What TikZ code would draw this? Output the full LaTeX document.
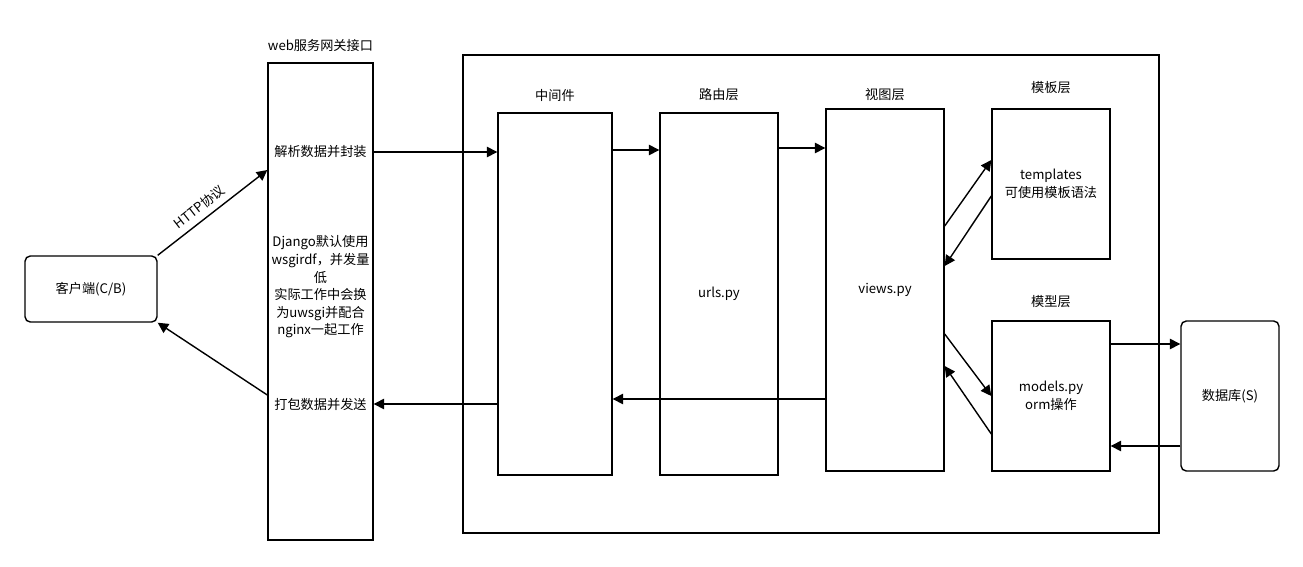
\documentclass[tikz,border=0pt]{standalone}
\usepackage{fontspec}
\setmainfont{Noto Sans CJK SC}
\usetikzlibrary{arrows.meta}
\tikzset{
  box/.style={draw, line width=0.8pt, inner sep=0pt},
  rbox/.style={box, rounded corners=3pt},
  lbl/.style={align=center, font=\fontsize{7.5}{10}\selectfont},
  link/.style={line width=0.8pt, -{Triangle[length=6pt,width=6pt]}}
}
\begin{document}
\begin{tikzpicture}[x=0.02cm, y=-0.02cm, font=\fontsize{7.5}{10}\selectfont]
  \useasboundingbox (0,0) rectangle (1303,566);

  % outer frame
  \node [box, minimum width=13.92cm, minimum height=9.56cm] (frame) at (811,294) {};

  % client and gateway
  \node [rbox, minimum width=2.64cm, minimum height=1.32cm] (client) at (91,289) {客户端(C/B)};
  \node [box, minimum width=2.1cm, minimum height=9.54cm] (gw) at (320.5,301.5) {};
  \node [lbl] (gw title) at (320.5,45) {web服务网关接口};
  \node [lbl] (gw parse) at (320.5,152) {解析数据并封装};
  \node [lbl] (gw note) at (320.5,287)
    {Django默认使用\\wsgirdf，并发量\\低\\实际工作中会换\\为uwsgi并配合\\nginx一起工作};
  \node [lbl] (gw pack) at (320.5,404) {打包数据并发送};

  % layers
  \node [box, minimum width=2.28cm, minimum height=7.24cm] (mid) at (555,294) {};
  \node [lbl] (mid title) at (555,95) {中间件};
  \node [box, minimum width=2.36cm, minimum height=7.24cm] (url) at (719,294) {urls.py};
  \node [lbl] (url title) at (719,95) {路由层};
  \node [box, minimum width=2.36cm, minimum height=7.24cm] (view) at (885,290) {views.py};
  \node [lbl] (view title) at (885,95) {视图层};
  \node [box, minimum width=2.36cm, minimum height=3cm, lbl] (tpl) at (1051,184) {templates\\可使用模板语法};
  \node [lbl] (tpl title) at (1051,88) {模板层};
  \node [box, minimum width=2.36cm, minimum height=3cm, lbl] (mdl) at (1051,396) {models.py\\orm操作};
  \node [lbl] (mdl title) at (1051,302) {模型层};
  \node [rbox, minimum width=1.96cm, minimum height=3cm] (db) at (1230,396) {数据库(S)};

  % request
  \draw [link] (client.north east) -- (gw.west |- 0,170)
    node [pos=0.45, above, sloped] {HTTP协议};
  \draw [link] (gw.east |- 0,152) -- (mid.west |- 0,152);
  \draw [link] (mid.east |- 0,150) -- (url.west |- 0,150);
  \draw [link] (url.east |- 0,148) -- (view.west |- 0,148);
  \draw [link] (view.east |- 0,226) -- (tpl.west |- 0,160);
  \draw [link] (tpl.west |- 0,196) -- (view.east |- 0,266);
  \draw [link] (view.east |- 0,334) -- (mdl.west |- 0,396);
  \draw [link] (mdl.west |- 0,434) -- (view.east |- 0,366);
  \draw [link] (mdl.east |- 0,344) -- (db.west |- 0,344);
  \draw [link] (db.west |- 0,446) -- (mdl.east |- 0,446);

  % response
  \draw [link] (view.west |- 0,399) -- (mid.east |- 0,399);
  \draw [link] (mid.west |- 0,404) -- (gw.east |- 0,404);
  \draw [link] (gw.west |- 0,395) -- (client.south east);
\end{tikzpicture}
\end{document}
